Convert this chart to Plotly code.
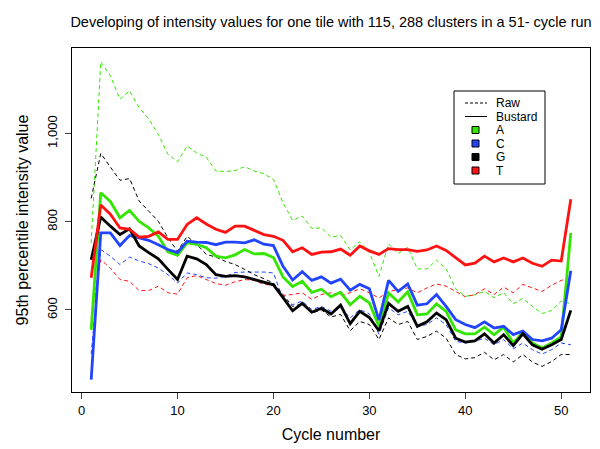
import plotly.graph_objects as go

cycles = list(range(1, 52))

a_raw = [752, 1163, 1131, 1078, 1097, 1059, 1033, 998, 953, 936, 972, 956, 946, 915, 914, 916, 925, 915, 909, 896,
         843, 803, 813, 785, 786, 765, 769, 736, 755, 730, 676, 750, 728, 742, 693, 693, 713, 693, 648, 631,
         634, 642, 628, 639, 614, 626, 608, 592, 599, 620, 614]
c_raw = [500, 737, 722, 703, 720, 711, 705, 695, 680, 661, 684, 680, 673, 672, 676, 685, 686, 686, 686, 684,
         624, 612, 620, 601, 608, 597, 605, 582, 601, 591, 545, 605, 589, 597, 563, 567, 582, 567, 529, 525,
         529, 536, 521, 533, 512, 525, 510, 500, 510, 525, 521]
g_raw = [853, 955, 924, 894, 898, 847, 824, 801, 764, 733, 767, 749, 726, 720, 710, 703, 692, 680, 671, 661,
         635, 608, 614, 593, 600, 584, 590, 553, 574, 567, 533, 582, 567, 574, 533, 540, 552, 536, 499, 489,
         492, 504, 487, 499, 482, 499, 482, 472, 483, 499, 499]
t_raw = [582, 714, 695, 669, 665, 644, 644, 654, 639, 636, 673, 678, 669, 660, 656, 664, 669, 667, 658, 656,
         633, 635, 639, 624, 635, 639, 633, 639, 648, 639, 627, 642, 646, 650, 639, 650, 659, 654, 642, 630,
         635, 648, 635, 652, 639, 658, 650, 642, 656, 667, 673]

a_bus = [555, 866, 846, 809, 826, 801, 786, 767, 732, 724, 752, 749, 741, 722, 718, 725, 737, 727, 728, 719,
         675, 653, 665, 640, 647, 630, 640, 612, 631, 616, 563, 639, 618, 641, 589, 591, 614, 597, 555, 546,
         546, 561, 544, 561, 525, 550, 525, 514, 525, 539, 775]
c_bus = [442, 775, 775, 746, 769, 764, 758, 748, 737, 730, 756, 754, 753, 748, 754, 754, 752, 759, 749, 746,
         699, 668, 687, 667, 675, 661, 670, 645, 658, 648, 577, 667, 642, 659, 611, 614, 635, 608, 578, 567,
         560, 573, 559, 563, 544, 552, 533, 530, 536, 555, 689]
g_bus = [714, 811, 790, 771, 784, 745, 730, 716, 692, 669, 722, 716, 703, 680, 676, 678, 675, 669, 663, 657,
         628, 598, 615, 595, 604, 591, 611, 569, 597, 583, 553, 615, 597, 608, 563, 573, 593, 578, 536, 527,
         530, 546, 525, 544, 519, 546, 521, 511, 521, 533, 599]
t_bus = [673, 838, 817, 786, 783, 765, 767, 777, 760, 760, 794, 809, 795, 783, 776, 790, 790, 780, 771, 767,
         758, 732, 741, 726, 731, 732, 738, 724, 745, 734, 726, 739, 737, 737, 733, 736, 745, 735, 718, 702,
         706, 722, 709, 718, 709, 718, 706, 699, 713, 711, 851]

bases = ["A", "C", "G", "T"]
colors = {"A": "#33e600", "C": "#2244ff", "G": "#000000", "T": "#ff1111"}
raw = {"A": a_raw, "C": c_raw, "G": g_raw, "T": t_raw}
bustard = {"A": a_bus, "C": c_bus, "G": g_bus, "T": t_bus}

fig = go.Figure()
for b in bases:
    fig.add_trace(go.Scatter(x=cycles, y=raw[b], mode="lines", showlegend=False,
                             line=dict(color=colors[b], width=1, dash="4px,3px")))
for b in bases:
    fig.add_trace(go.Scatter(x=cycles, y=bustard[b], mode="lines", showlegend=False,
                             line=dict(color=colors[b], width=2.8)))

# plot area in pixels: x 64..582, y 40..384
L, R, T, B = 64, 582, 40, 384
def px(x):
    return (x - L) / (R - L)
def py(y):
    return (B - y) / (B - T)

shapes = [dict(type="rect", xref="paper", yref="paper", x0=px(446), x1=px(537), y0=py(176), y1=py(83),
               line=dict(color="black", width=1), fillcolor="white")]
annotations = []
rows = [95, 108.5, 122, 135.5, 149, 162.5]
labels = ["Raw", "Bustard"] + bases
for i, (ry, lab) in enumerate(zip(rows, labels)):
    if i < 2:
        shapes.append(dict(type="line", xref="paper", yref="paper", x0=px(457), x1=px(479), y0=py(ry), y1=py(ry),
                           line=dict(color="black", width=1, dash="3px,2px" if i == 0 else "solid")))
    else:
        shapes.append(dict(type="rect", xref="paper", yref="paper", x0=px(464), x1=px(471),
                           y0=py(ry + 3.5), y1=py(ry - 3.5),
                           line=dict(color="black", width=1), fillcolor=colors[lab]))
    annotations.append(dict(text=lab, xref="paper", yref="paper", x=px(486), y=py(ry), xanchor="left",
                            yanchor="middle", showarrow=False, font=dict(size=12, color="black")))

fig.update_layout(
    width=600, height=449,
    margin=dict(l=L, r=600 - R, t=T, b=449 - B),
    paper_bgcolor="white", plot_bgcolor="white",
    font=dict(family="Liberation Sans, Arial, sans-serif", size=13, color="black"),
    title=dict(text="Developing of intensity values for one tile with 115, 288 clusters in a 51- cycle run",
               x=(L + R) / 2 / 600, xanchor="center", y=1 - 14 / 449, yanchor="middle",
               font=dict(size=14.5)),
    shapes=shapes, annotations=annotations,
    xaxis=dict(range=[-1, 53], tickvals=[0, 10, 20, 30, 40, 50], ticks="outside", ticklen=6,
               showline=True, linecolor="black", linewidth=1, mirror=True, showgrid=False, zeroline=False,
               title=dict(text="Cycle number", standoff=12), tickfont=dict(size=13)),
    yaxis=dict(range=[414, 1194], tickvals=[600, 800, 1000], ticktext=["600", "800", "1,000"],
               tickangle=-90, ticks="outside", ticklen=6, ticklabelstandoff=3,
               showline=True, linecolor="black", linewidth=1, mirror=True, showgrid=False, zeroline=False,
               title=dict(text="95th percentile intensity value", standoff=12), tickfont=dict(size=13)),
)

fig.write_html("out.html")
